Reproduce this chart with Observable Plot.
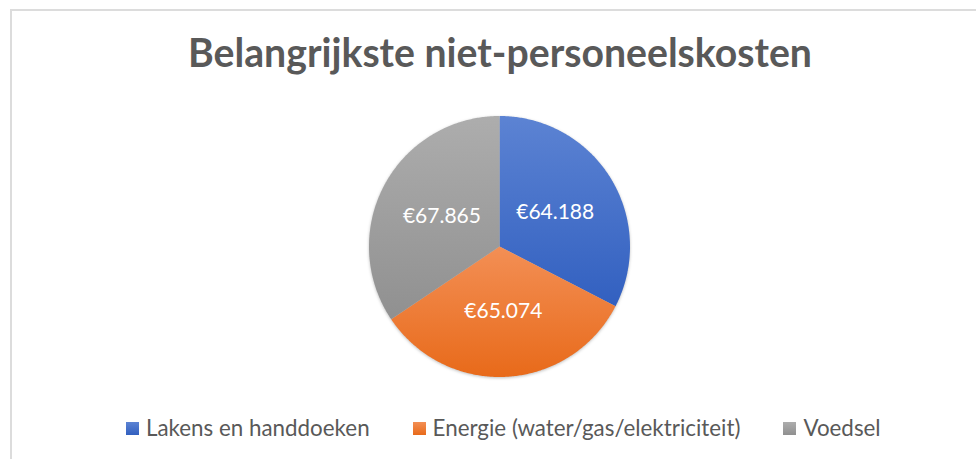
<!DOCTYPE html>
<html>
<head>
<meta charset="utf-8">
<script src="https://cdn.jsdelivr.net/npm/d3@7"></script>
<script src="https://cdn.jsdelivr.net/npm/@observablehq/plot@0.6"></script>
<style>
  html, body { margin: 0; padding: 0; background: #ffffff; }
  #wrap { position: relative; width: 976px; height: 459px; overflow: hidden; font-family: Lato, "Open Sans", sans-serif; }
  #frame { position: absolute; left: 10px; top: 9px; width: 1200px; height: 800px;
           border-left: 2px solid #dcdcdc; border-top: 2px solid #dcdcdc; }
  #title { position: absolute; left: 0; width: 1000px; text-align: center; color: #595959;
           font-weight: 700; line-height: 1.2; white-space: nowrap; }
  #chart { position: absolute; left: 0; top: 96px; }
  #legend { position: absolute; left: 126px; display: flex; align-items: center; gap: 43px;
            color: #595959; line-height: 1.2; white-space: nowrap; }
  .item { display: flex; align-items: center; }
  .sw { width: 13px; height: 13px; margin-right: 7px; flex: none; }
</style>
</head>
<body>
<div id="wrap">
  <div id="frame"></div>
  <div id="title"></div>
  <div id="chart"></div>
  <div id="legend"></div>
</div>
<script>
// ---- data ----
const titleText = "Belangrijkste niet-personeelskosten";
const categories = ["Lakens en handdoeken", "Energie (water/gas/elektriciteit)", "Voedsel"];
const values = [64188, 65074, 67865];
const valueLabels = ["€64.188", "€65.074", "€67.865"];

// ---- palette (gradient top/bottom per slice) ----
const colorTop = ["#5c83d3", "#f38f55", "#adadad"];
const colorBottom = ["#3260c0", "#e86a1a", "#909090"];

const rows = categories.map((c, i) => ({category: c, value: values[i], label: valueLabels[i]}));

// font fitting by measured width
const ctx = document.createElement("canvas").getContext("2d");
function fitSize(text, weight, target) {
  ctx.font = `${weight} 100px Lato`;
  return 100 * target / ctx.measureText(text).width;
}

// title
const titleSize = fitSize(titleText, 700, 624);
const titleEl = document.getElementById("title");
titleEl.textContent = titleText;
titleEl.style.fontSize = titleSize + "px";
titleEl.style.top = (67 - 0.987 * titleSize) + "px";

// pie geometry from data
const arcs = d3.pie().sort(null).value(d => d.value)(rows);
const poly = arcs.flatMap(a => {
  const n = Math.max(2, Math.ceil((a.endAngle - a.startAngle) / 0.01));
  const pts = [{key: a.data.category, x: 0, y: 0}];
  for (let k = 0; k <= n; k++) {
    const t = a.startAngle + (a.endAngle - a.startAngle) * k / n;
    pts.push({key: a.data.category, x: Math.sin(t), y: Math.cos(t)});
  }
  pts.push({key: a.data.category, x: 0, y: 0});
  return pts;
});
const labelPts = arcs.map(a => {
  const m = (a.startAngle + a.endAngle) / 2;
  return {x: 0.5 * Math.sin(m), y: 0.5 * Math.cos(m), text: a.data.label};
});

const labelSize = d3.mean(valueLabels, t => fitSize(t, 400, 78));

const cx = 499, cy = 150, R = 130.5;
const svg = Plot.plot({
  width: 976,
  height: 300,
  margin: 0,
  x: {domain: [-1, 1], range: [cx - R, cx + R], axis: null},
  y: {domain: [-1, 1], range: [cy + R, cy - R], axis: null},
  color: {type: "ordinal", domain: categories, range: categories.map((_, i) => `url(#grad${i})`)},
  style: {background: "transparent", fontFamily: "Lato, sans-serif"},
  marks: [
    Plot.line(poly, {x: "x", y: "y", z: "key", fill: "key", stroke: null, curve: "linear"}),
    Plot.text(labelPts, {x: "x", y: "y", text: "text", fill: "white", fontSize: labelSize, fontFamily: "Lato, sans-serif"})
  ]
});

const defs = d3.select(svg).insert("defs", ":first-child");
categories.forEach((c, i) => {
  const g = defs.append("linearGradient").attr("id", `grad${i}`)
    .attr("x1", 0).attr("y1", 0).attr("x2", 0).attr("y2", 1);
  g.append("stop").attr("offset", "0%").attr("stop-color", colorTop[i]);
  g.append("stop").attr("offset", "100%").attr("stop-color", colorBottom[i]);
});
d3.select(svg).select("g[aria-label='line']").style("filter", "drop-shadow(0px 1px 1.5px rgba(0,0,0,0.25))");
document.getElementById("chart").appendChild(svg);

// legend
const legendTargets = [222, 311, 77];
const legendSize = d3.mean(categories, (c, i) => fitSize(c, 400, legendTargets[i]));
const legend = document.getElementById("legend");
legend.style.fontSize = legendSize + "px";
legend.style.top = (428.5 - 0.6 * legendSize) + "px";
categories.forEach((c, i) => {
  const item = document.createElement("div");
  item.className = "item";
  const sw = document.createElement("span");
  sw.className = "sw";
  sw.style.background = `linear-gradient(to bottom, ${colorTop[i]}, ${colorBottom[i]})`;
  const tx = document.createElement("span");
  tx.textContent = c;
  item.appendChild(sw);
  item.appendChild(tx);
  legend.appendChild(item);
});
</script>
</body>
</html>
